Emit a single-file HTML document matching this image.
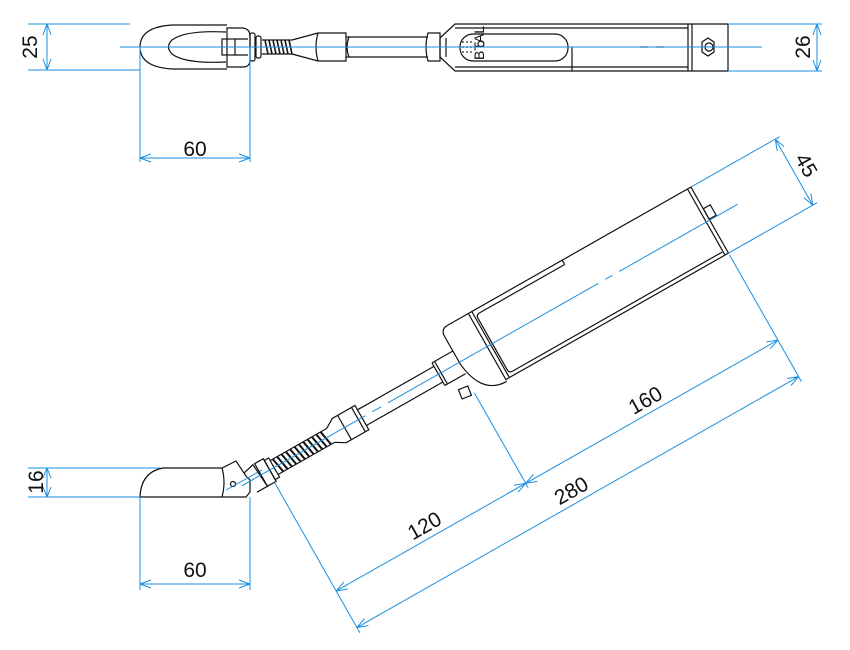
<!DOCTYPE html>
<html><head><meta charset="utf-8"><style>
html,body{margin:0;padding:0;background:#fff;}
svg{display:block;}
text{font-family:"Liberation Sans",sans-serif;font-size:21px;fill:#111;}
.k{fill:none;stroke:#111;stroke-width:1.2;}
.b{fill:none;stroke:#1a8fe0;stroke-width:1;}
</style></head><body>
<svg width="850" height="650" viewBox="0 0 850 650" xmlns="http://www.w3.org/2000/svg">
<!-- ===== TOP VIEW ===== -->
<g class="k">
  <path d="M227 25 L172 25 Q140 27 140 47 Q140 67 172 69 L227 69"/>
  <path d="M226 32 Q185 30 172 40 Q165 47 172 54 Q185 64 226 62"/>
  <path d="M227 28 L243 28 Q250 29 250 36 L250 60 Q250 67 243 67 L227 67 Z"/>
  <rect x="222" y="39" width="13" height="16"/>
  <path d="M235 39 L248 39 M235 55 L248 55"/>
  <rect x="250" y="33" width="5" height="28" rx="2"/>
  <rect x="256" y="36" width="5" height="22" rx="2"/>
  <path d="M262 40 L292 40 M262 54 L292 54"/>
  <path d="M265 40 L268 54 M269 40 L272 54 M273 40 L276 54 M277 40 L280 54 M281 40 L284 54 M285 40 L288 54 M289 40 L292 54" stroke-width="1.6"/>
  <path d="M292 40 L318 33 M292 54 L318 61"/>
  <path d="M318 33 L346 33 L346 61 L318 61 Q314 47 318 33 Z"/>
  <path d="M346 37 L428 37 M346 57 L428 57"/>
  <path d="M349 37 Q345 47 349 57"/>
  <path d="M428 33 L440 33 L440 61 L428 61 Q424 47 428 33 Z"/>
  <path d="M440 38 L455 24 L728 24 L728 71 L455 71 L440 57 Z"/>
  <path d="M446 38 L446 57"/>
  <path d="M455 28 L688 28 M455 67 L688 67"/>
  <rect x="460" y="34" width="108" height="27" rx="13"/>
  <path d="M572 47 L572 71"/>
  <path d="M688 24 L688 71 M692 24 L692 71"/>
  <path d="M702 42 L708 38 L714 42 L714 52 L708 56 L702 52 Z"/>
  <circle cx="709" cy="47" r="4"/>
  <path d="M640 47 L648 47 M656 47 L664 47"/>
  <circle cx="481" cy="44" r="3"/>
</g>
<text x="484" y="60" style="font-size:14px" transform="rotate(-90 484 60)">BTAL</text>
<g fill="#555"><circle cx="463" cy="42" r="1"/><circle cx="467" cy="42" r="1"/><circle cx="471" cy="42" r="1"/><circle cx="463" cy="47" r="1"/><circle cx="467" cy="47" r="1"/><circle cx="471" cy="47" r="1"/><circle cx="463" cy="52" r="1"/><circle cx="467" cy="52" r="1"/><circle cx="471" cy="52" r="1"/></g>
<g class="b">
  <path d="M120 47 L762 47"/>
  <path d="M28 24 L130 24 M28 70 L140 70 M47 24 L47 70 M47 24 L43 35 M47 24 L51 35 M47 70 L43 59 M47 70 L51 59"/>
  <path d="M728 24 L822 24 M728 71 L822 71 M817 24 L817 71 M817 24 L813 35 M817 24 L821 35 M817 71 L813 60 M817 71 L821 60"/>
  <path d="M140 47 L140 162 M250 47 L250 162 M140 158 L250 158 M140 158 L151 154 M140 158 L151 162 M250 158 L239 154 M250 158 L239 162"/>
</g>
<text x="38" y="47" text-anchor="middle" transform="rotate(-90 38 47)" dy="-1">25</text>
<text x="811" y="47" text-anchor="middle" transform="rotate(-90 811 47)" dy="-1">26</text>
<text x="195" y="156" text-anchor="middle">60</text>

<!-- ===== BOTTOM LEFT HEAD ===== -->
<g class="k">
  <path d="M140 497 Q141 472 163 468 L222 468 L236 461 L246 476 L250 480 L250 492 L246 497 Z"/>
  <path d="M222 468 Q226 482 222 497"/>
  <circle cx="233" cy="484" r="2.5"/>
</g>
<g class="b">
  <path d="M28 468 L160 468 M28 497 L140 497 M47 468 L47 497 M47 468 L43 478 M47 468 L51 478 M47 497 L43 487 M47 497 L51 487"/>
  <path d="M140 497 L140 590 M250 497 L250 590 M140 584 L250 584 M140 584 L151 580 M140 584 L151 588 M250 584 L239 580 M250 584 L239 588"/>
  <path d="M226 490 L262 470"/>
</g>
<text x="36" y="482" text-anchor="middle" transform="rotate(-90 36 482)" dy="7">16</text>
<text x="195" y="584" text-anchor="middle" dy="-7">60</text>

<!-- ===== DIAGONAL ASSEMBLY (local frame) ===== -->
<g transform="translate(268 471) rotate(-29.6)">
  <g class="k">
    <path d="M-22 -10 L-10 -13 L-8 13 L-20 13"/>
    <rect x="-8" y="-13" width="10" height="26"/>
    <rect x="2" y="-11" width="5" height="22"/>
    <path d="M7 -8 L72 -8 M7 8 L72 8"/>
    <path d="M10 -8 L13 8 M15 -8 L18 8 M20 -8 L23 8 M25 -8 L28 8 M30 -8 L33 8 M35 -8 L38 8 M40 -8 L43 8 M45 -8 L48 8 M50 -8 L53 8 M55 -8 L58 8 M60 -8 L63 8 M65 -8 L68 8" stroke-width="2"/>
    <path d="M72 -8 L82 -14 L108 -14 L108 14 L82 14 L72 8"/>
    <path d="M88 -14 L88 14 M104 -14 L104 14"/>
    <path d="M108 -9 L196 -9 M108 9 L196 9"/>
    <path d="M196 -13 L220 -13 M196 13 L220 13 M196 -13 L196 13 M199 -13 L199 13"/>
    <path d="M252 -38 L228 -38 Q220 -38 220 -30 L220 2 Q224 40 252 40"/>
    <rect x="205" y="24" width="10" height="10" transform="rotate(8 210 29)"/>
    <path d="M252 -38 L508 -38 L508 38 L252 38 Z"/>
    <path d="M256 -38 L256 38 M504 -38 L504 38"/>
    <path d="M262 -33 L360 -33 M360 -38 L360 -33"/>
    <path d="M262 -33 Q258 -33 258 -29 L258 30 Q258 34 262 34 L503 34"/>
    <rect x="508" y="-13" width="8" height="12"/>
  </g>
  <g class="b">
    <path d="M-30 0 L112 0 M120 0 L130 0 M138 0 L380 0 M388 0 L396 0 M404 0 L540 0"/>
    <path d="M0 14 L0 186 M218 34 L218 143 M508 40 L508 186"/>
    <path d="M0 138 L508 138"/>
    <path d="M0 138 L11 134 M0 138 L11 142 M218 138 L207 134 M218 138 L207 142 M218 138 L229 134 M218 138 L229 142 M508 138 L497 134 M508 138 L497 142"/>
    <path d="M0 180 L508 180 M0 180 L11 176 M0 180 L11 184 M508 180 L497 176 M508 180 L497 184"/>
    <path d="M508 -38 L610 -38 M508 38 L610 38 M605 -38 L605 38 M605 -38 L601 -27 M605 -38 L609 -27 M605 38 L601 27 M605 38 L609 27"/>
  </g>
  <text x="109" y="132" text-anchor="middle">120</text>
  <text x="363" y="132" text-anchor="middle">160</text>
  <text x="254" y="174" text-anchor="middle">280</text>
  <text x="612" y="0" text-anchor="middle" transform="rotate(90 612 0)">45</text>
</g>
</svg>
</body></html>
